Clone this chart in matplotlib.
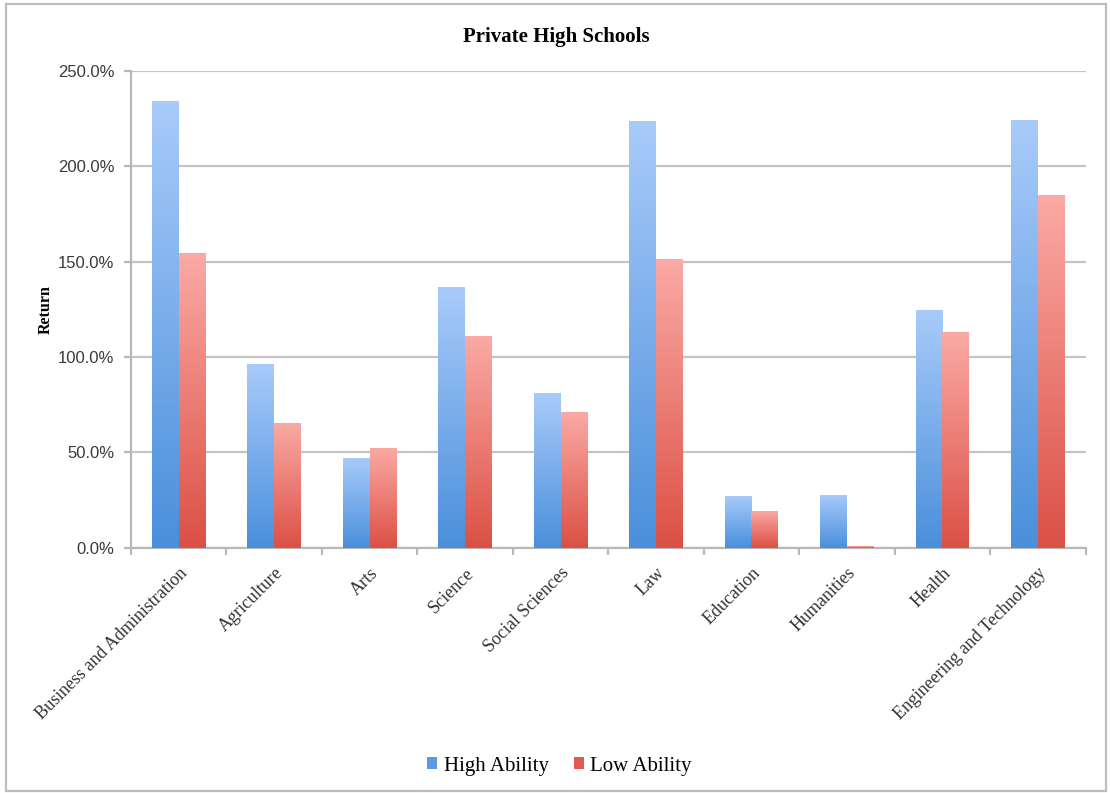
import numpy as np
import matplotlib
matplotlib.use("Agg")
import matplotlib.pyplot as plt
from matplotlib.colors import LinearSegmentedColormap
from matplotlib.patches import Rectangle, Patch
from matplotlib.ticker import PercentFormatter

categories = ["Business and Administration", "Agriculture", "Arts", "Science",
              "Social Sciences", "Law", "Education", "Humanities", "Health",
              "Engineering and Technology"]
high_ability = [234.3, 96.4, 47.2, 136.8, 81.2, 223.8, 27.3, 27.8, 124.7, 224.3]
low_ability = [154.6, 65.5, 52.4, 111.1, 71.3, 151.5, 19.4, 1.0, 113.2, 185.0]
series_names = ["High Ability", "Low Ability"]
y_ticks = [0, 50, 100, 150, 200, 250]

SERIF = "Liberation Serif"
SANS = "Liberation Sans"

blue_grad = LinearSegmentedColormap.from_list("blue_grad", ["#4a8fdb", "#a9cbfa"])
red_grad = LinearSegmentedColormap.from_list("red_grad", ["#db5045", "#fbaaa5"])

fig = plt.figure(figsize=(11.1, 7.93), dpi=100)
ax = fig.add_axes([0.118, 0.309, 0.860, 0.602])

x = np.arange(len(categories))
width = 0.28
grad = np.linspace(0, 1, 256).reshape(-1, 1)

for vals, offset, cmap in [(high_ability, -width / 2, blue_grad),
                           (low_ability, width / 2, red_grad)]:
    bars = ax.bar(x + offset, vals, width, color="none", edgecolor="none", zorder=3)
    for b in bars:
        x0, w, h = b.get_x(), b.get_width(), b.get_height()
        im = ax.imshow(grad, cmap=cmap, aspect="auto", origin="lower",
                       extent=[x0, x0 + w, 0, h], zorder=3, interpolation="bilinear")
        im.set_clip_path(b)

ax.set_xlim(-0.5, len(categories) - 0.5)
ax.set_ylim(0, 250)
ax.set_yticks(y_ticks)
ax.yaxis.set_major_formatter(PercentFormatter(decimals=1))
ax.grid(axis="y", color="#c4c4c4", linewidth=1.6, zorder=0)
ax.set_axisbelow(True)

for s in ["top", "right"]:
    ax.spines[s].set_visible(False)
for s in ["left", "bottom"]:
    ax.spines[s].set_color("#b8b8b8")
    ax.spines[s].set_linewidth(1.6)

# category ticks sit on group boundaries, labels at group centres
ax.set_xticks(np.arange(len(categories) + 1) - 0.5)
ax.set_xticklabels([])
ax.set_xticks(x, minor=True)
ax.set_xticklabels(categories, minor=True, rotation=45, ha="right",
                   rotation_mode="anchor", fontfamily=SERIF, fontsize=13,
                   color="#333333")
ax.tick_params(axis="x", which="major", length=5, width=1.6, color="#b8b8b8")
ax.tick_params(axis="x", which="minor", length=0, pad=12)
ax.tick_params(axis="y", length=5, width=1.6, color="#b8b8b8",
               labelsize=12, labelcolor="#3a3a3a", pad=7)
for lbl in ax.get_yticklabels():
    lbl.set_fontfamily(SANS)

fig.text(0.501, 0.953, "Private High Schools", ha="center", va="center",
         fontfamily=SERIF, fontweight="bold", fontsize=15)
ax.set_ylabel("Return", fontfamily=SERIF, fontweight="bold", fontsize=11.5)
ax.yaxis.set_label_coords(-0.0805, 0.5)

handles = [Patch(facecolor="#5b9be0"), Patch(facecolor="#e05a52")]
fig.legend(handles, series_names, loc="center", bbox_to_anchor=(0.504, 0.034),
           ncol=2, frameon=False, prop={"family": SERIF, "size": 15},
           handlelength=0.5, handleheight=0.5, handletextpad=0.3,
           columnspacing=1.2)

fig.add_artist(Rectangle((0.005, 0.003), 0.991, 0.992, transform=fig.transFigure,
                         fill=False, edgecolor="#bdbdbd", linewidth=1.6))

fig.savefig("out.png", dpi=100)
